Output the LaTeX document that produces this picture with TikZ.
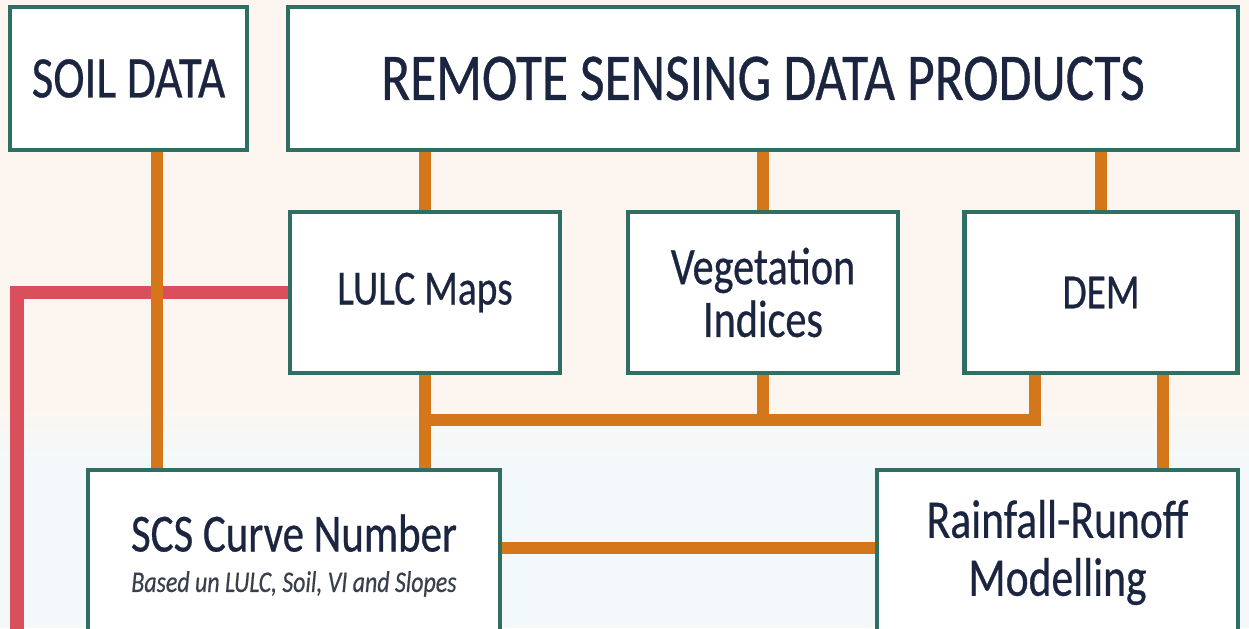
\documentclass[tikz,border=0pt]{standalone}
\usepackage{fontspec}
\setmainfont{Carlito}[FakeStretch=0.8,FakeBold=0.5]
\usetikzlibrary{calc, backgrounds}

\definecolor{bgtop}{HTML}{FDF6F0}
\definecolor{bgbot}{HTML}{F3F9FA}
\definecolor{boxline}{HTML}{2F6E62}
\definecolor{ink}{HTML}{1B2540}
\definecolor{subink}{HTML}{3A3F4C}
\definecolor{linkor}{HTML}{D4761A}
\definecolor{linkred}{HTML}{D94F5C}

\begin{document}
\begin{tikzpicture}[node distance=6.76cm,
  box/.style={draw=boxline,line width=2.8pt,fill=white,text=ink,align=center,inner sep=0pt,
    font=\fontsize{28}{30}\selectfont},
  link/.style={draw=linkor,line width=6.8pt},
  redlink/.style={draw=linkred,line width=7.4pt}]
\useasboundingbox (0,0) rectangle (24.98,-12.56);
\begin{scope}[on background layer]
\fill[bgtop] (0,0) rectangle (24.98,-8.0);
\shade[top color=bgtop,bottom color=bgbot] (0,-8.0) rectangle (24.98,-9.2);
\fill[bgbot] (0,-9.2) rectangle (24.98,-12.56);
\end{scope}
\node [box,minimum width=4.74cm,minimum height=2.86cm,font=\fontsize{33.5}{36}\selectfont] (soil) at (2.57,-1.57) {SOIL DATA};
\node [box,minimum width=19cm,minimum height=2.86cm,font=\fontsize{38}{40}\selectfont] (rs) at (15.26,-1.57) {REMOTE SENSING DATA PRODUCTS};
\node [box,minimum width=5.4cm,minimum height=3.22cm] (lulc) at (8.5,-5.85) {LULC Maps};
\node [box,minimum width=5.4cm,minimum height=3.22cm,font=\fontsize{30}{30}\selectfont] [right of=lulc] (veg) {Vegetation\\Indices};
\node [box,minimum width=5.46cm,minimum height=3.22cm] [right of=veg] (dem) {DEM};
\node [box,minimum width=8.24cm,minimum height=3.5cm,font=\fontsize{30.5}{32}\selectfont] (scs) at (5.88,-11.15)
  {SCS Curve Number\\[-9pt]{\fontsize{17}{20}\selectfont\itshape\color{subink}Based un LULC, Soil, VI and Slopes}\\[-27pt]};
\node [box,minimum width=7.22cm,minimum height=3.5cm,font=\fontsize{31}{33}\selectfont] (rain) at (21.15,-11.15) {Rainfall-Runoff\\Modelling\\[-22pt]};
\coordinate (redend) at (0.34,-12.9);
\coordinate (bus) at (0,-8.4);
\begin{scope}[on background layer]
\draw [redlink] (lulc.west) -| (redend);
\draw [link] ([xshift=0.57cm]soil.south) -- ([xshift=0.57cm]soil.south |- scs.north);
\draw [link] (lulc.north |- rs.south) -- (lulc.north);
\draw [link] (veg.north |- rs.south) -- (veg.north);
\draw [link] (dem.north |- rs.south) -- (dem.north);
\draw [link] (lulc.south) -- (lulc.south |- scs.north);
\draw [link] (veg.south) -- (veg.south |- bus);
\draw [link] ([xshift=-1.32cm]dem.south) |- (lulc.south |- bus);
\draw [link] ([xshift=1.24cm]dem.south) -- ([xshift=1.24cm]dem.south |- rain.north);
\draw [link] ([yshift=0.19cm]scs.east) -- ([yshift=0.19cm]scs.east -| rain.west);
\end{scope}
\end{tikzpicture}
\end{document}
